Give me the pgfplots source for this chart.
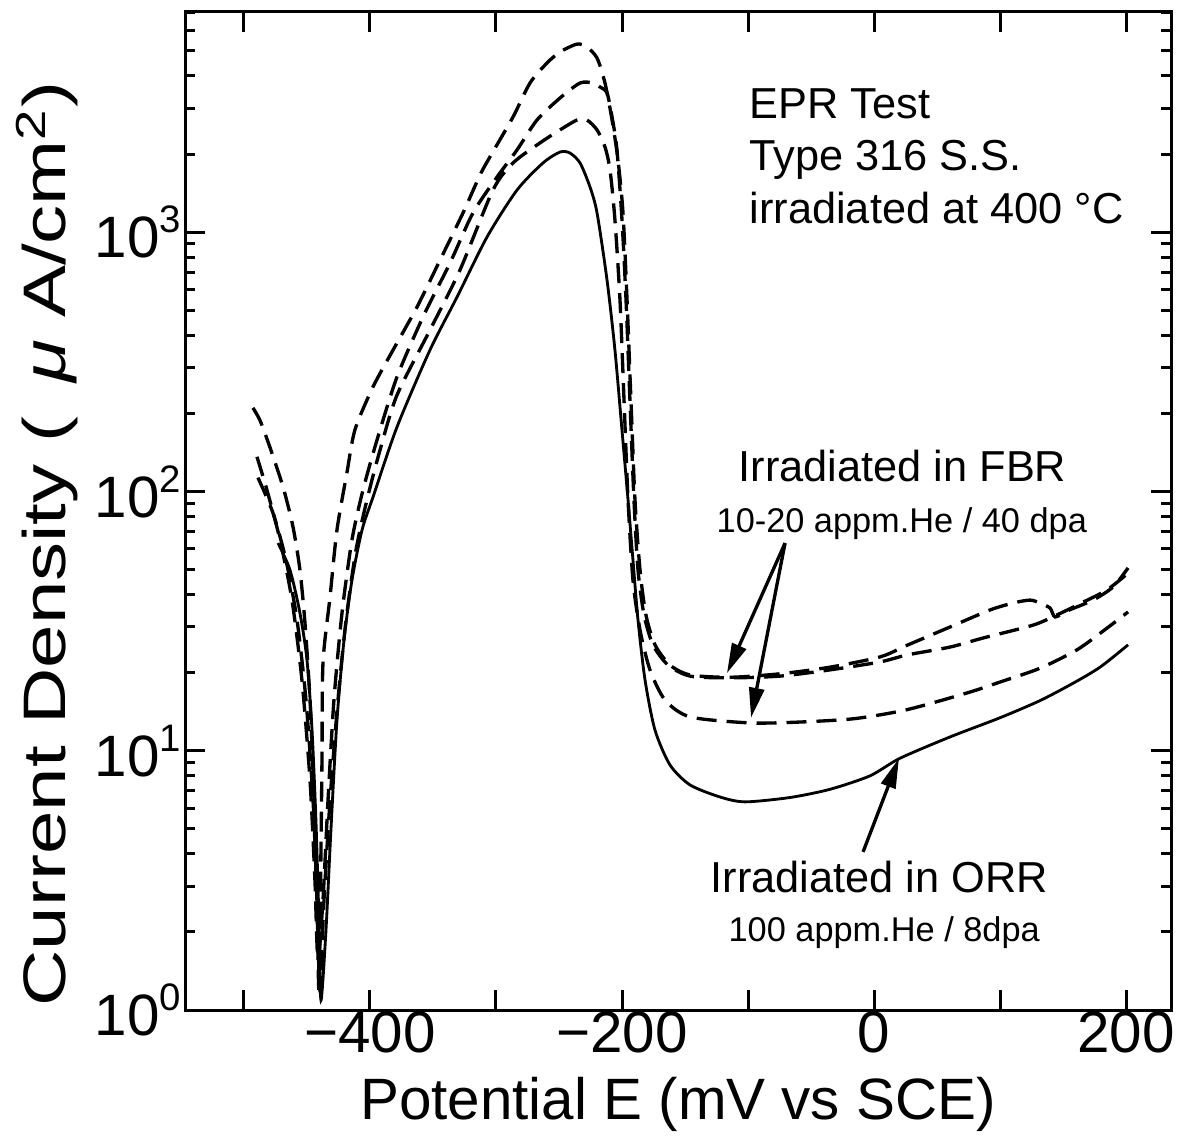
\documentclass[border=0pt]{standalone}
\usepackage{fontspec}
\setmainfont{Liberation Sans}
\usepackage{pgfplots}
\pgfplotsset{compat=1.18}
\usetikzlibrary{arrows.meta}
\newcommand{\tenpow}[1]{10\raisebox{7.5pt}{\fontsize{11.5}{12}\selectfont #1}}
\begin{document}
\begin{tikzpicture}
\path[use as bounding box] (0,0) rectangle (354.9pt,342.3pt);
\begin{axis}[
  at={(55.5pt,39.3pt)}, anchor=south west,
  width=295.8pt, height=299.4pt, scale only axis,
  xmin=-546.8, xmax=235.7,
  ymode=log, ymin=1, ymax=7063,
  xtick={-500,-400,...,200},
  xticklabels={,−400,,−200,,0,,200},
  ytick={1,10,100,1000},
  yticklabels={\tenpow{0},\tenpow{1},\tenpow{2},\tenpow{3}},
  minor ytick={2,3,4,5,6,7,8,9,20,30,40,50,60,70,80,90,200,300,400,500,600,700,800,900,2000,3000,4000,5000,6000,7000},
  tick align=inside,
  major tick length=6pt, minor tick length=3pt,
  every tick/.style={black, line width=0.9pt},
  axis line style={line width=0.9pt},
  tick label style={font=\fontsize{17.5}{20}\selectfont},
  xticklabel style={yshift=3pt},
  yticklabel style={inner sep=1pt},
  xlabel={Potential E (mV vs SCE)},
  ylabel={\scalebox{1.3}[1]{Current Density (\, {\itshape μ} A/cm\textsuperscript{2})}},
  xlabel style={font=\fontsize{17.5}{20}\selectfont, at={(axis description cs:0.5,-0.110)}, anchor=base},
  ylabel style={font=\fontsize{18}{20}\selectfont, at={(axis description cs:-0.1207,0.467)}, anchor=base},
  every axis plot/.append style={smooth, tension=0.45},
]
% FBR curve with hump (highest peak)
\addplot[black, line width=1pt, dash pattern=on 6pt off 3pt] coordinates {
(-492.9,210) (-487.3,188) (-479.4,148) (-469.0,104) (-461.1,73) (-455.6,49.8)
(-451.6,31.1) (-447.6,15.7) (-444.4,6.45) (-442.1,2.66) (-440.5,1.19)
(-438.9,4.14) (-438.1,9.2) (-437.3,21.8) (-431.7,39.2) (-426.2,71) (-418.3,118)
(-411.9,173) (-397.6,253) (-381.7,351) (-362.7,514) (-344.4,780) (-326.2,1185)
(-312.7,1660) (-304.8,1950) (-286.5,2780) (-273.0,3760) (-259.5,4490) (-249.2,4950)
(-235.7,5310) (-227.8,5170) (-219.8,4690) (-213.5,3760) (-207.9,2710) (-203.2,1900)
(-199.2,1185) (-196.0,547) (-192.9,225) (-189.7,92.7) (-185.7,49.8) (-181.0,33.4)
(-173.8,25.6) (-161.9,21.4) (-146.0,19.6) (-114.3,19.2) (-74.6,19.8) (-34.9,21.0)
(4.8,23.0) (26.2,25.5) (60.3,30.0) (92.1,34.9) (110.3,37.1) (123.8,38.1)
(131.7,37.1) (139.7,35.5) (143.7,32.8) (153.2,34.6) (173.8,38.1) (189.7,42.8) (201.6,50.7)
};
% FBR curve, second peak
\addplot[black, line width=1pt, dash pattern=on 6pt off 3pt] coordinates {
(-489.7,136) (-481.7,101) (-471.4,65) (-461.9,38.1) (-454.0,18.7) (-447.6,7.7)
(-443.7,3.17) (-441.3,1.56) (-437.3,2.66) (-433.3,6.45) (-428.6,15.7) (-422.2,34.0)
(-414.3,65) (-405.6,101) (-394.4,158) (-378.6,276) (-357.9,471) (-336.5,760)
(-318.3,1185) (-299.2,1630) (-283.3,2075) (-267.5,2705) (-249.2,3290) (-233.3,3760)
(-223.0,3760) (-217.5,3630) (-211.9,3440) (-207.9,2780) (-204.0,2075) (-200.0,1113)
(-196.8,547) (-193.7,225) (-190.5,92.7) (-187.3,49.8) (-182.5,33.4) (-175.4,25.6)
(-163.5,21.4) (-146.0,19.4) (-114.3,19.1) (-74.6,19.4) (-34.9,20.5) (4.8,22.0)
(26.2,23.4) (60.3,25.1) (86.5,27.2) (126.2,30.5) (145.2,33.4) (165.9,37.4)
(184.9,41.7) (201.6,48.4)
};
% FBR curve, third peak (lowest dashed at right)
\addplot[black, line width=1pt, dash pattern=on 6pt off 3pt] coordinates {
(-488.9,113) (-477.0,82.6) (-466.7,54.4) (-457.9,31.9) (-450.8,15.7) (-445.2,6.45)
(-442.1,2.66) (-439.7,1.19) (-436.5,2.66) (-431.7,6.45) (-425.4,15.7) (-419.0,31.9)
(-411.1,59.4) (-402.4,92.7) (-392.1,144) (-378.6,235) (-352.4,419) (-328.6,714)
(-302.4,1453) (-286.5,1848) (-265.1,2208) (-249.2,2478) (-235.7,2705) (-227.8,2705)
(-219.8,2478) (-213.5,2130) (-209.5,1735) (-205.6,1113) (-201.6,547) (-198.4,225)
(-195.2,92.7) (-191.3,45.5) (-185.7,29.2) (-177.8,20.5) (-165.9,15.7) (-146.0,13.5)
(-98.4,12.8) (-58.7,12.9) (-15.1,13.3) (26.2,14.4) (73.8,16.7) (100,18.4)
(131.7,20.8) (161.1,24.5) (184.9,29.7) (201.6,34.3)
};
% ORR curve (solid)
\addplot[black, line width=0.85pt] coordinates {
(-473.0,63.2) (-463.5,49.8) (-455.6,34.0) (-450.0,22.4) (-446.0,12.0) (-442.9,5.4)
(-440.5,2.22) (-438.9,1.09) (-434.9,2.04) (-431.0,4.94) (-426.2,13.1) (-420.6,26.7)
(-414.3,45.5) (-406.3,71) (-397.6,95.1) (-378.6,177) (-352.4,351) (-330.9,562)
(-307.1,958) (-283.3,1453) (-262.7,1848) (-249.2,2036) (-241.3,2018) (-233.3,1848)
(-225.4,1493) (-219.8,1185) (-211.9,654) (-205.6,351) (-200.0,172) (-195.2,92.7)
(-191.3,54.4) (-187.3,31.9) (-181.7,18.7) (-173.8,12.0) (-161.9,8.81) (-146.0,7.38)
(-122.2,6.63) (-102.4,6.35) (-66.7,6.6) (-34.9,7.1) (-3.2,8.0) (20.6,9.35)
(60.3,11.3) (100,13.4) (131.7,15.6) (157.9,18.2) (179.4,21.0) (201.6,25.6)
};
% annotations
\node[anchor=base west, font=\fontsize{13}{15}\selectfont, inner sep=0pt] at (axis cs:-99.2,2754) {EPR Test};
\node[anchor=base west, font=\fontsize{13}{15}\selectfont, inner sep=0pt] at (axis cs:-99.2,1736) {Type 316 S.S.};
\node[anchor=base west, font=\fontsize{13}{15}\selectfont, inner sep=0pt] at (axis cs:-99.2,1084) {irradiated at 400 °C};
\node[anchor=base west, font=\fontsize{13}{15}\selectfont, inner sep=0pt] at (axis cs:-107.9,109.6) {Irradiated in FBR};
\node[anchor=base west, font=\fontsize{10.3}{12}\selectfont, inner sep=0pt] at (axis cs:-125.4,69.7) {10-20 appm.He / 40 dpa};
\node[anchor=base west, font=\fontsize{13}{15}\selectfont, inner sep=0pt] at (axis cs:-130.2,2.83) {Irradiated in ORR};
\node[anchor=base west, font=\fontsize{10.3}{12}\selectfont, inner sep=0pt] at (axis cs:-115.9,1.83) {100 appm.He / 8dpa};
\draw[-{Triangle[length=9pt,width=4.5pt]}, line width=1pt] (axis cs:-70.6,63.2) -- (axis cs:-116.7,19.9);
\draw[-{Triangle[length=9pt,width=4.5pt]}, line width=1pt] (axis cs:-70.6,63.2) -- (axis cs:-97.6,13.4);
\draw[-{Triangle[length=9pt,width=4.5pt]}, line width=1pt] (axis cs:-8.7,4.07) -- (axis cs:19.8,9.35);
\end{axis}
\end{tikzpicture}
\end{document}
